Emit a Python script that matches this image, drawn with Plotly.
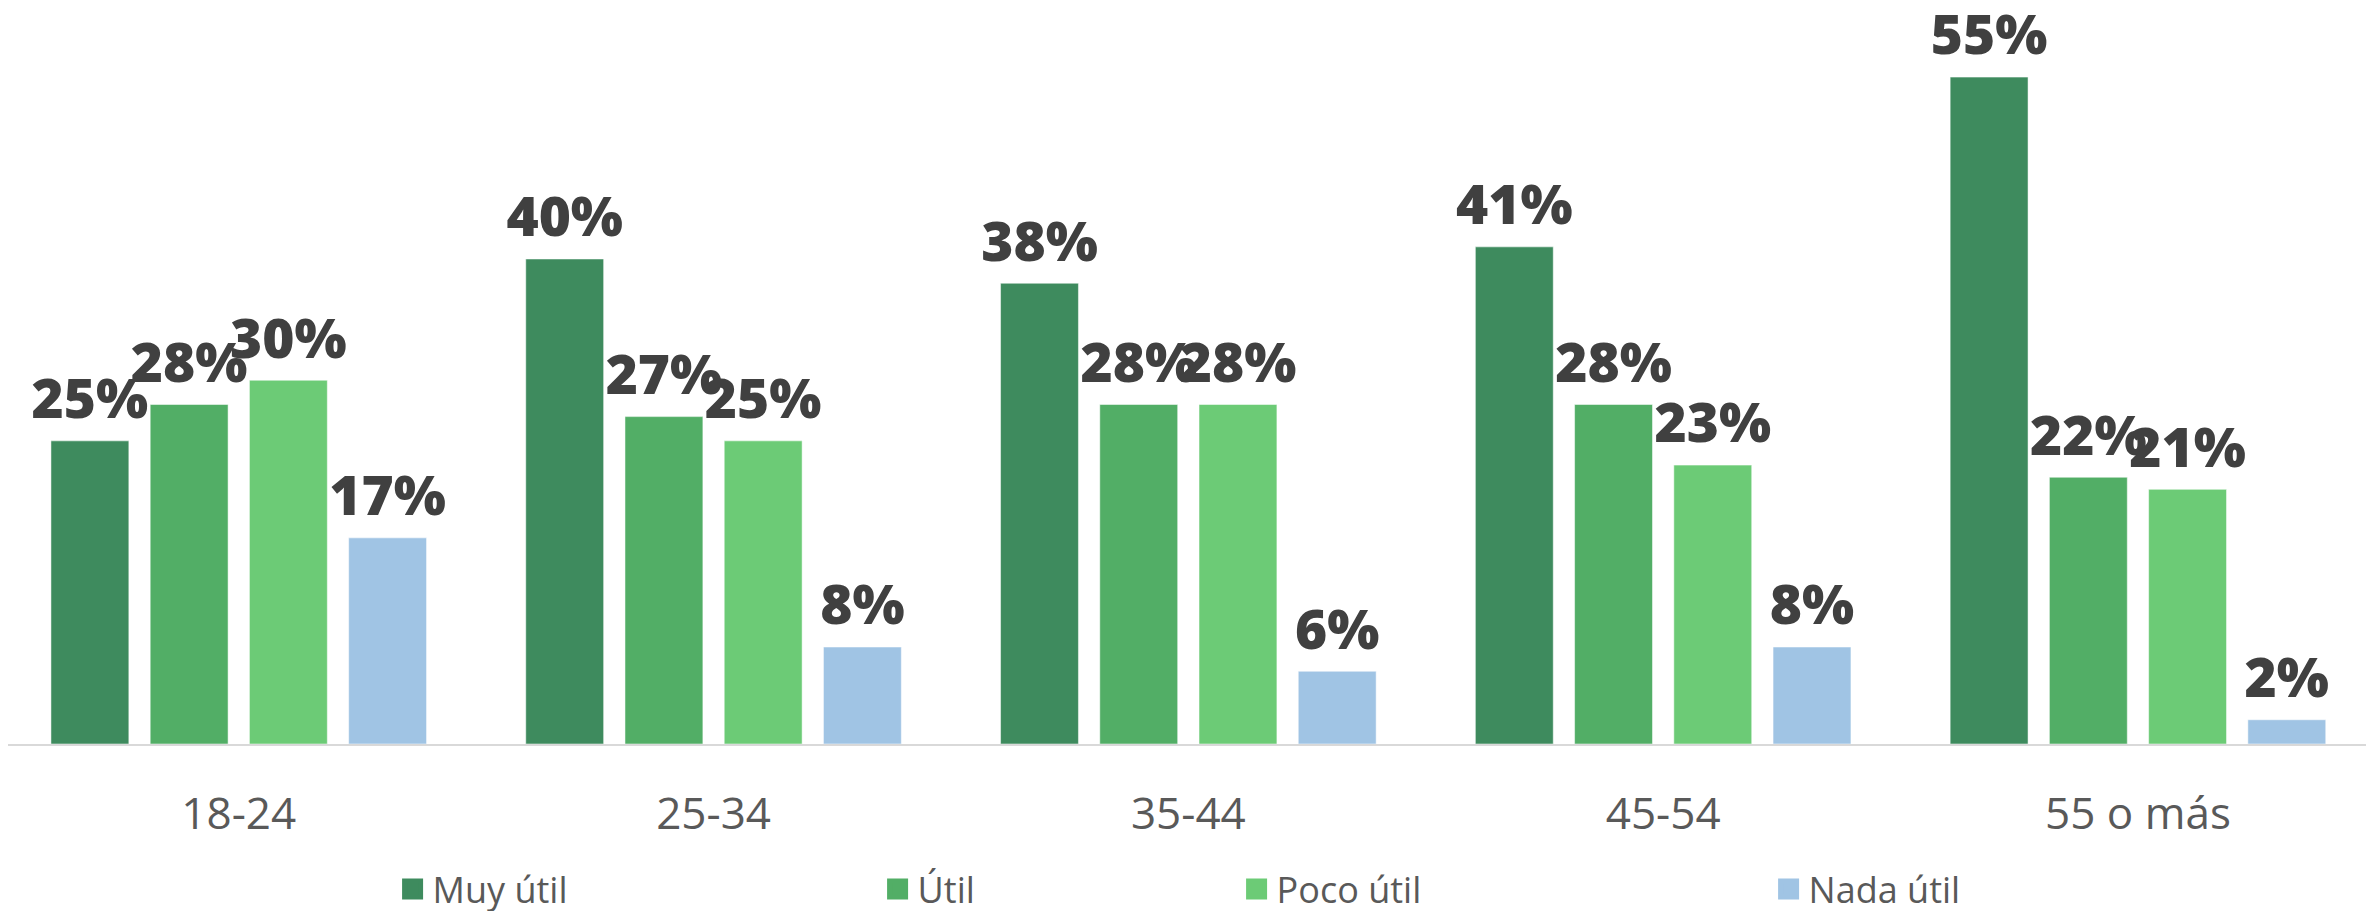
import plotly.graph_objects as go

categories = ["18-24", "25-34", "35-44", "45-54", "55 o más"]
series_names = ["Muy útil", "Útil", "Poco útil", "Nada útil"]
muy_util = [25, 40, 38, 41, 55]
util = [28, 27, 28, 28, 22]
poco_util = [30, 25, 28, 23, 21]
nada_util = [17, 8, 6, 8, 2]
series_values = [muy_util, util, poco_util, nada_util]

colors = ["#3E8B5E", "#52AE66", "#6CCB76", "#A0C4E4"]
legend_widths = [440, 314, 487, 300]
LABEL_LIFT = 0.3  # extra space (in axis units) between bar top and its label

fig = go.Figure()
for i, (name, vals, col) in enumerate(zip(series_names, series_values, colors)):
    fig.add_trace(go.Bar(
        x=categories, y=vals, name=name, offsetgroup=str(i),
        marker=dict(color=col, line=dict(color="rgba(255,255,255,0.5)", width=1)),
        showlegend=False, hoverinfo="skip",
    ))
    # transparent spacer bar sitting on top of each bar, carrying the label
    fig.add_trace(go.Bar(
        x=categories, y=[LABEL_LIFT] * len(vals), base=vals, offsetgroup=str(i),
        marker=dict(color="rgba(0,0,0,0)", line=dict(width=0)),
        text=[f"{v}%" for v in vals],
        textposition="outside", constraintext="none", cliponaxis=False,
        textfont=dict(family="Open Sans", size=55, color="#404040", weight=800),
        showlegend=False, hoverinfo="skip",
    ))

# legend entries with larger square swatches
for name, col, lw in zip(series_names, colors, legend_widths):
    fig.add_trace(go.Scatter(
        x=[None], y=[None], mode="markers", name=name,
        marker=dict(symbol="square", size=16, color=col, line=dict(color=col, width=5)),
        legendwidth=lw, hoverinfo="skip",
    ))

fig.update_layout(
    width=2374, height=911,
    margin=dict(l=0, r=0, t=0, b=168),
    paper_bgcolor="white", plot_bgcolor="white",
    barmode="group", bargap=0.164, bargroupgap=0.215,
    showlegend=True,
    legend=dict(orientation="h", x=0.162, xanchor="left", y=-0.197, yanchor="middle",
                font=dict(family="Open Sans", size=36, color="#595959"),
                itemwidth=30),
    xaxis=dict(range=[-0.486, 4.514], showgrid=False, showline=True,
               linecolor="#D9D9D9", linewidth=2,
               ticks="", ticklabelstandoff=30,
               tickfont=dict(family="Open Sans", size=44, color="#595959")),
    yaxis=dict(range=[0, 60.7], showgrid=False, showticklabels=False, zeroline=False,
               showline=False, ticks=""),
)

fig.write_html("out.html")
